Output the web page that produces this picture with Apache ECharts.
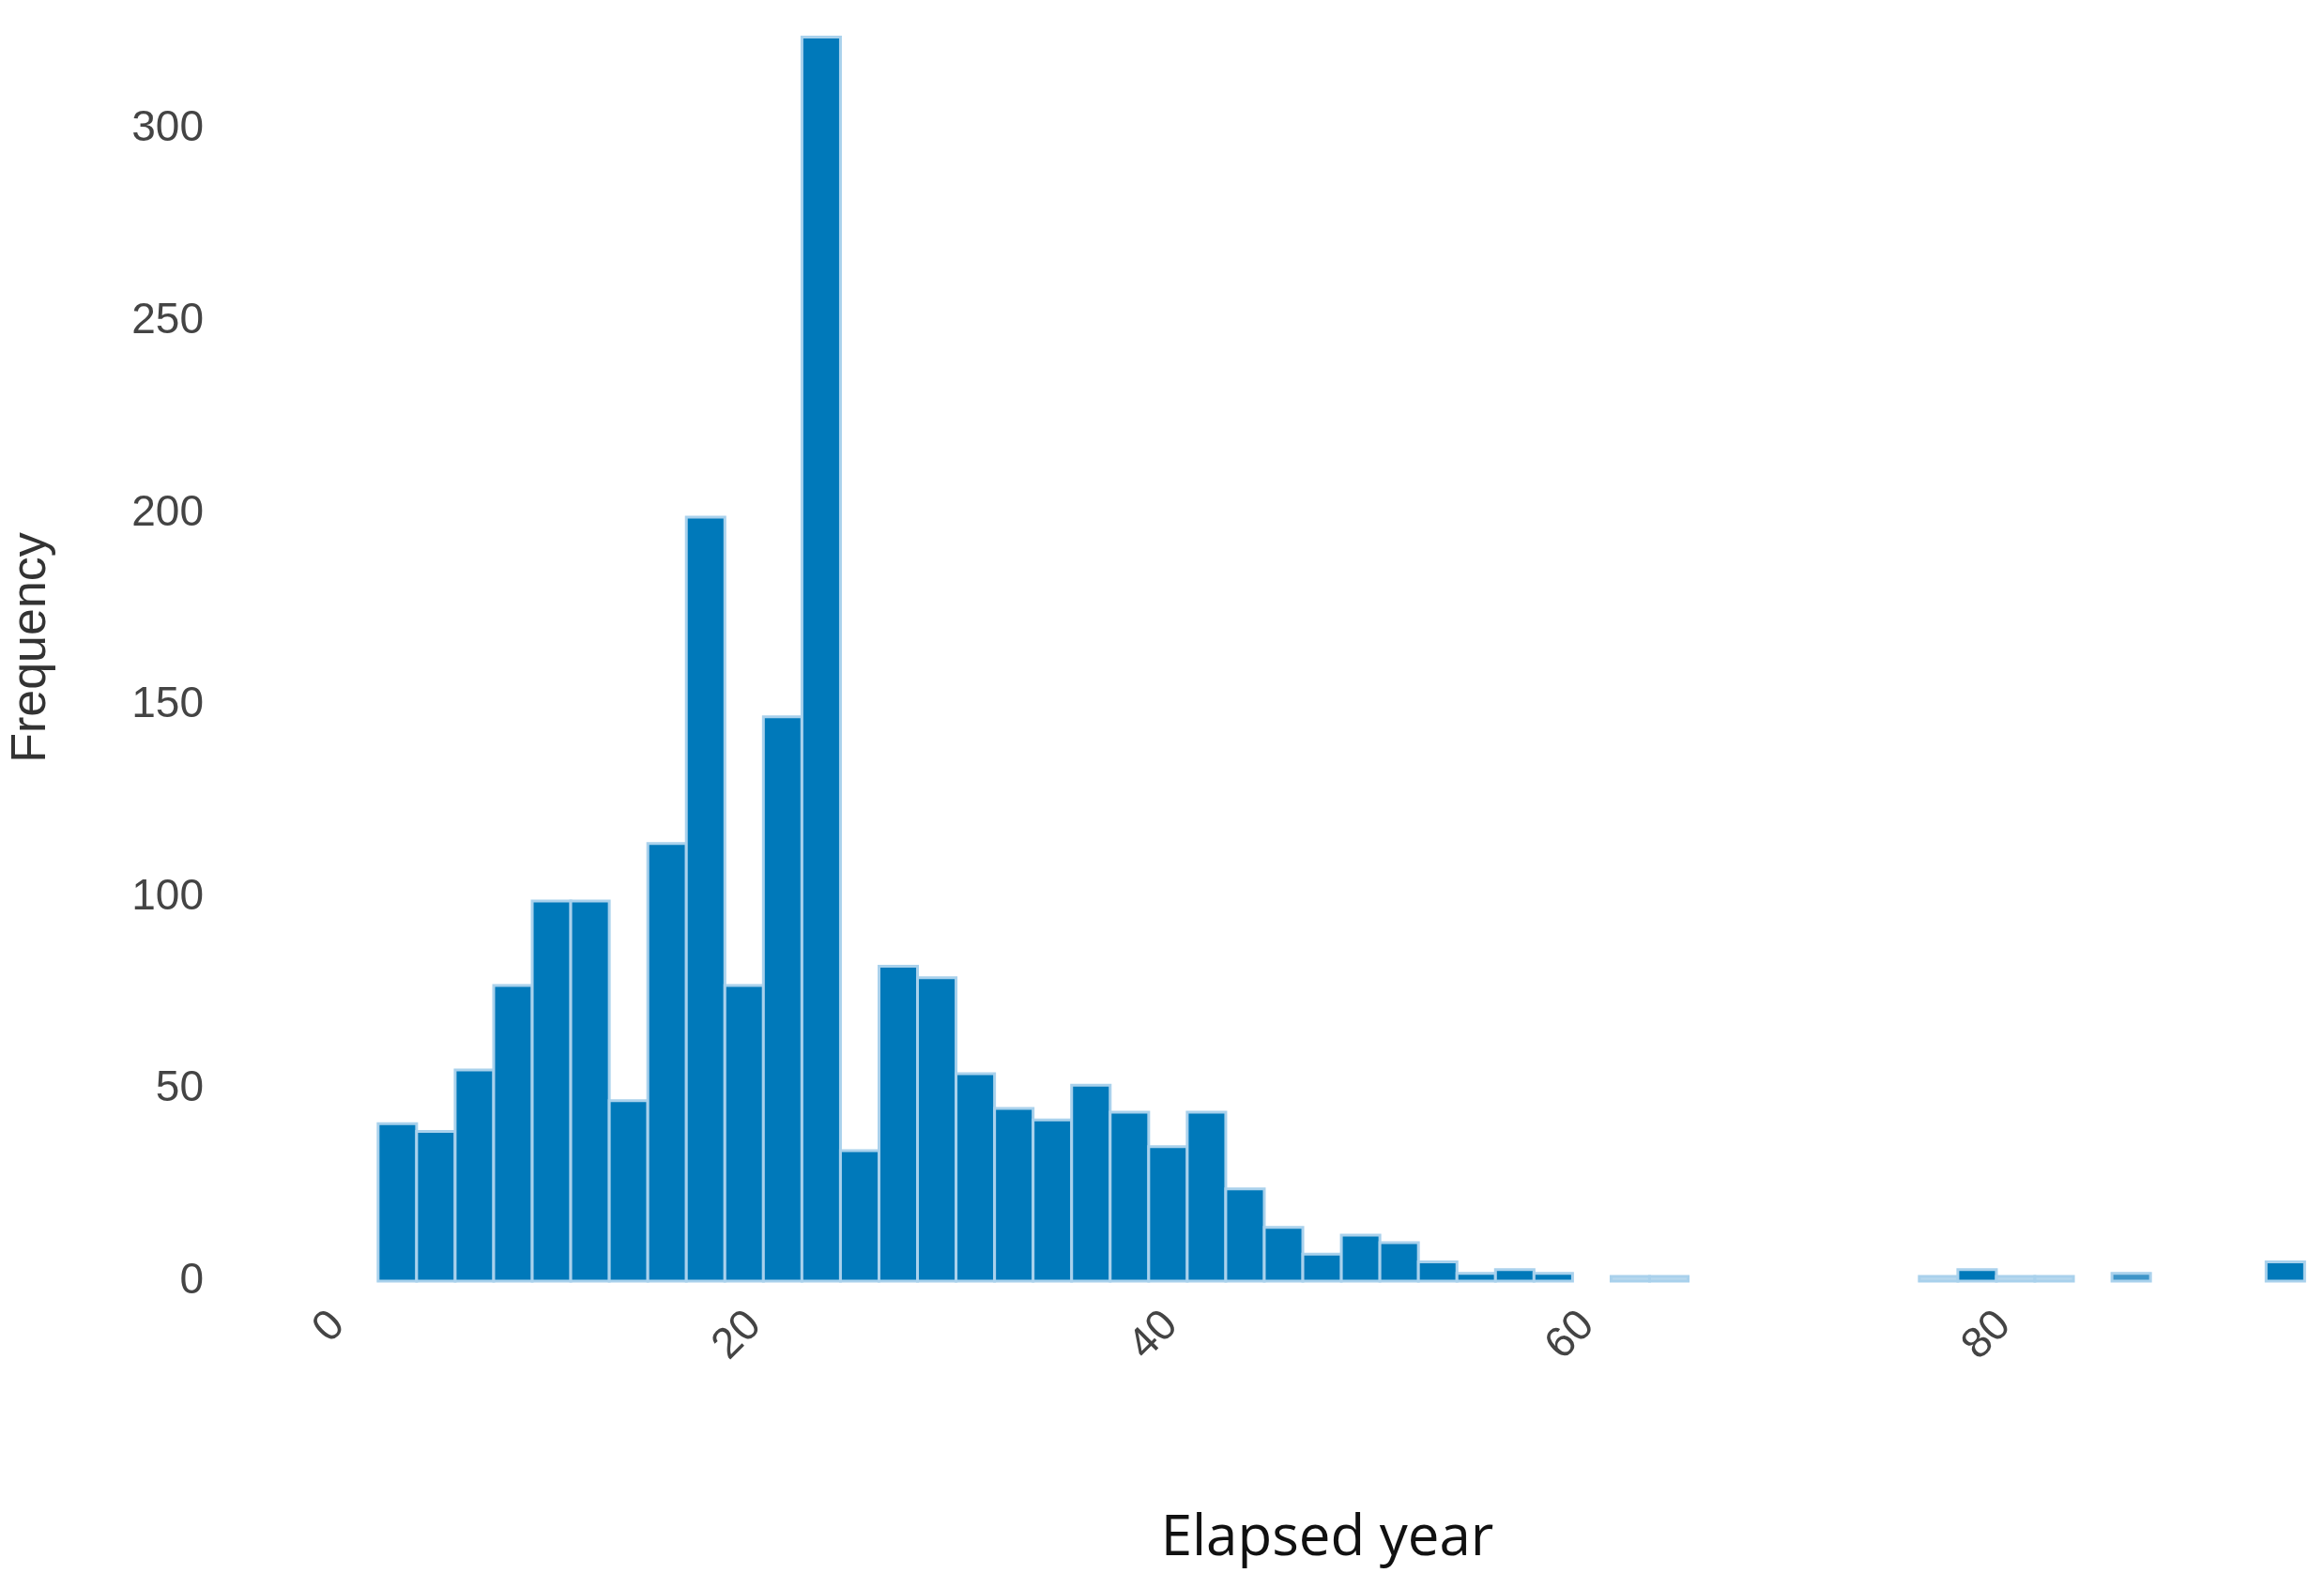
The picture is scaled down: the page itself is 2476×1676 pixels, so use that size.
<!DOCTYPE html>
<html>
<head>
<meta charset="utf-8">
<script src="https://cdn.jsdelivr.net/npm/echarts@6/dist/echarts.min.js"></script>
<style>html,body{margin:0;background:#fff}#chart{width:2476px;height:1676px}</style>
</head>
<body>
<div id="chart"></div>
<script>
// histogram bins: start year and width
const binStart = 1.93;
const binWidth = 1.85;
const counts = [41, 39, 55, 77, 99, 99, 47, 114, 199, 77, 147, 324, 34, 82, 79, 54, 45, 42, 51, 44,
  35, 44, 24, 14, 7, 12, 10, 5, 2, 3, 2, 0, 1.2, 1.2, 0, 0, 0, 0, 0, 0,
  1.2, 3, 1.2, 1.2, 0, 2, 0, 0, 0, 5];
// bins drawn in faint colour
const faint = [32, 33, 40, 42, 43];
const medium = [45];
const yTicks = [0, 50, 100, 150, 200, 250, 300];

const data = counts.map((c, i) => [binStart + i * binWidth, binStart + (i + 1) * binWidth, c, i]);

const chart = echarts.init(document.getElementById('chart'));
chart.setOption({
  animation: false,
  grid: { left: 357, right: 8, top: 15, bottom: 311 },
  xAxis: {
    type: 'value', min: 0, max: 95, interval: 20,
    axisLine: { show: false }, axisTick: { show: false }, splitLine: { show: false },
    axisLabel: { rotate: 45, margin: 40, fontSize: 46, color: '#444', fontFamily: 'Liberation Sans', showMaxLabel: false },
    name: 'Elapsed year', nameLocation: 'middle', nameGap: 245,
    nameTextStyle: { fontSize: 60, color: '#111', fontFamily: 'Open Sans' }
  },
  yAxis: {
    type: 'value', min: 0, max: 330, interval: 50,
    axisLine: { show: false }, axisTick: { show: false }, splitLine: { show: false },
    axisLabel: { margin: 143, fontSize: 46, color: '#444', fontFamily: 'Liberation Sans', showMaxLabel: false,
      formatter: v => yTicks.includes(v) ? String(v) : '' },
    name: 'Frequency', nameLocation: 'middle', nameGap: 300,
    nameTextStyle: { fontSize: 52, color: '#333', fontFamily: 'Liberation Sans' }
  },
  series: [{
    type: 'custom',
    data: data,
    renderItem: function (params, api) {
      const p0 = api.coord([api.value(0), 0]);
      const p1 = api.coord([api.value(1), api.value(2)]);
      const idx = api.value(3);
      if (api.value(2) <= 0) return null;
      let fill = '#0079ba';
      if (faint.includes(idx)) fill = '#b8d8ee';
      if (medium.includes(idx)) fill = '#3f95c8';
      return {
        type: 'rect',
        shape: { x: p0[0], y: p1[1], width: p1[0] - p0[0], height: p0[1] - p1[1] },
        style: { fill: fill, stroke: '#a9d1ec', lineWidth: 3 }
      };
    }
  }]
});
</script>
</body>
</html>
